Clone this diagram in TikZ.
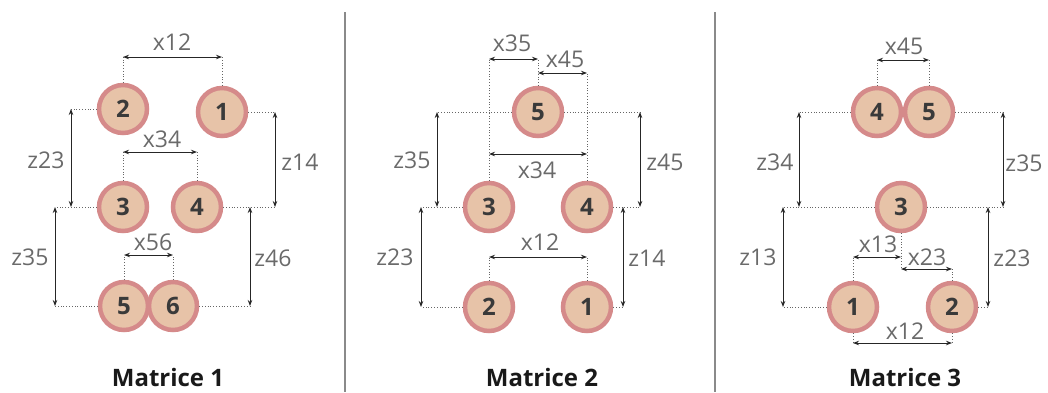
\documentclass[tikz,border=0pt]{standalone}
\usepackage{fontspec}
\setmainfont{Open Sans}
\usetikzlibrary{arrows.meta}
\definecolor{ballfill}{HTML}{E7C3A8}
\definecolor{ballline}{HTML}{D58A8A}
\definecolor{numcol}{HTML}{3A3A3A}
\definecolor{lblcol}{HTML}{6A6A6A}
\definecolor{sepcol}{HTML}{8A8A8A}
\tikzset{
  ball/.style={circle, draw=ballline, line width=4.5pt, fill=ballfill, minimum size=48pt, inner sep=0pt,
    font=\fontsize{24}{24}\selectfont\bfseries, text=numcol},
  dim/.style={{Stealth[length=6pt,width=4.5pt]}-{Stealth[length=6pt,width=4.5pt]}, line width=0.9pt, black!85},
  ext/.style={dotted, line width=0.8pt, black!60},
  lbl/.style={font=\fontsize{23}{23}\selectfont, text=lblcol, inner sep=0pt},
  ttl/.style={font=\fontsize{24}{24}\selectfont\bfseries, text=black!90, inner sep=0pt},
  sep/.style={line width=1.2pt, sepcol}
}
\begin{document}
\begin{tikzpicture}[x=1pt,y=-1pt]
\useasboundingbox (0,0) rectangle (1048,392);
% separators
\coordinate (s1t) at (345,12); \coordinate (s1b) at (345,392);
\coordinate (s2t) at (715,12); \coordinate (s2b) at (715,392);
\draw[sep] (s1t) -- (s1b);
\draw[sep] (s2t) -- (s2b);

% ================= Panel 1 =================
\node[ball] (a2) at (123,109) {2};
\node[ball] (a1) at (222,112) {1};
\node[ball] (a3) at (123,207) {3};
\node[ball] (a4) at (197,207) {4};
\node[ball] (a5) at (124,306) {5};
\node[ball] (a6) at (173,306) {6};
% x12
\coordinate (ax12l) at (123,57); \coordinate (ax12r) at (222,57);
\draw[ext] (a2.north) -- (ax12l); \draw[ext] (a1.north) -- (ax12r);
\draw[dim] (ax12l) -- (ax12r);
\node[lbl] (lx12a) at (172,42) {x12};
% x34
\coordinate (ax34l) at (123,152); \coordinate (ax34r) at (197,152);
\draw[ext] (a3.north) -- (ax34l); \draw[ext] (a4.north) -- (ax34r);
\draw[dim] (ax34l) -- (ax34r);
\node[lbl] (lx34a) at (162,139) {x34};
% x56
\coordinate (ax56l) at (124,255); \coordinate (ax56r) at (173,255);
\draw[ext] (a5.north) -- (ax56l); \draw[ext] (a6.north) -- (ax56r);
\draw[dim] (ax56l) -- (ax56r);
\node[lbl] (lx56a) at (153,242) {x56};
% z23
\coordinate (az23t) at (71,109); \coordinate (az23b) at (71,207);
\coordinate (a3w) at (55,207);
\draw[ext] (a2.west) -- (az23t); \draw[ext] (a3.west) -- (a3w);
\draw[dim] (az23t) -- (az23b);
\node[lbl] (lz23a) at (46,160) {z23};
% z35
\coordinate (az35b) at (55,306);
\draw[ext] (a5.west) -- (az35b);
\draw[dim] (a3w) -- (az35b);
\node[lbl] (lz35a) at (30,257) {z35};
% z14
\coordinate (az14t) at (275,112); \coordinate (az14b) at (275,207);
\draw[ext] (a1.east) -- (az14t); \draw[ext] (a4.east) -- (az14b);
\draw[dim] (az14t) -- (az14b);
\node[lbl] (lz14a) at (300,162) {z14};
% z46
\coordinate (az46t) at (250,207); \coordinate (az46b) at (250,306);
\draw[ext] (a6.east) -- (az46b);
\draw[dim] (az46t) -- (az46b);
\node[lbl] (lz46a) at (273,258) {z46};
\node[ttl] (t1) at (168,377) {Matrice 1};

% ================= Panel 2 =================
\node[ball] (b5) at (538,112) {5};
\node[ball] (b3) at (489,207) {3};
\node[ball] (b4) at (587,207) {4};
\node[ball] (b2) at (489,307) {2};
\node[ball] (b1) at (587,307) {1};
% x35
\coordinate (bx35l) at (489,59); \coordinate (bx35r) at (538,59);
\draw[ext] (b3.north) -- (bx35l); \draw[ext] (b5.north) -- (bx35r);
\draw[dim] (bx35l) -- (bx35r);
\node[lbl] (lx35b) at (512,43) {x35};
% x45
\coordinate (bx45l) at (538,73); \coordinate (bx45r) at (587,73);
\draw[ext] (b4.north) -- (bx45r);
\draw[dim] (bx45l) -- (bx45r);
\node[lbl] (lx45b) at (565,59) {x45};
% x34
\coordinate (bx34l) at (489,154); \coordinate (bx34r) at (587,154);
\draw[dim] (bx34l) -- (bx34r);
\node[lbl] (lx34b) at (537,170) {x34};
% z35
\coordinate (bz35t) at (437,112); \coordinate (bz35b) at (437,207);
\coordinate (b3w) at (421,207);
\draw[ext] (b5.west) -- (bz35t); \draw[ext] (b3.west) -- (b3w);
\draw[dim] (bz35t) -- (bz35b);
\node[lbl] (lz35b) at (412,160) {z35};
% z45
\coordinate (bz45t) at (640,112); \coordinate (bz45b) at (640,207);
\draw[ext] (b5.east) -- (bz45t); \draw[ext] (b4.east) -- (bz45b);
\draw[dim] (bz45t) -- (bz45b);
\node[lbl] (lz45b) at (665,162) {z45};
% z23
\coordinate (bz23b) at (421,307);
\draw[ext] (b2.west) -- (bz23b);
\draw[dim] (b3w) -- (bz23b);
\node[lbl] (lz23b) at (395,257) {z23};
% x12
\coordinate (bx12l) at (489,257); \coordinate (bx12r) at (587,257);
\draw[ext] (b2.north) -- (bx12l); \draw[ext] (b1.north) -- (bx12r);
\draw[dim] (bx12l) -- (bx12r);
\node[lbl] (lx12b) at (540,242) {x12};
% z14
\coordinate (bz14t) at (623,207); \coordinate (bz14b) at (623,307);
\draw[ext] (b1.east) -- (bz14b);
\draw[dim] (bz14t) -- (bz14b);
\node[lbl] (lz14b) at (647,258) {z14};
\node[ttl] (t2) at (542,377) {Matrice 2};

% ================= Panel 3 =================
\node[ball] (c4) at (877,112) {4};
\node[ball] (c5) at (929,112) {5};
\node[ball] (c3) at (901,207) {3};
\node[ball] (c1) at (853,307) {1};
\node[ball] (c2) at (952,307) {2};
% x45
\coordinate (cx45l) at (877,60); \coordinate (cx45r) at (929,60);
\draw[ext] (c4.north) -- (cx45l); \draw[ext] (c5.north) -- (cx45r);
\draw[dim] (cx45l) -- (cx45r);
\node[lbl] (lx45c) at (904,46) {x45};
% z34
\coordinate (cz34t) at (799,112); \coordinate (cz34b) at (799,207);
\coordinate (c3w) at (783,207);
\draw[ext] (c4.west) -- (cz34t); \draw[ext] (c3.west) -- (c3w);
\draw[dim] (cz34t) -- (cz34b);
\node[lbl] (lz34c) at (775,162) {z34};
% z35
\coordinate (cz35t) at (1003,112); \coordinate (cz35b) at (1003,207);
\draw[ext] (c5.east) -- (cz35t); \draw[ext] (c3.east) -- (cz35b);
\draw[dim] (cz35t) -- (cz35b);
\node[lbl] (lz35c) at (1024,163) {z35};
% z13
\coordinate (cz13b) at (783,307);
\draw[ext] (c1.west) -- (cz13b);
\draw[dim] (c3w) -- (cz13b);
\node[lbl] (lz13c) at (758,257) {z13};
% z23
\coordinate (cz23t) at (988,207); \coordinate (cz23b) at (988,307);
\draw[ext] (c2.east) -- (cz23b);
\draw[dim] (cz23t) -- (cz23b);
\node[lbl] (lz23c) at (1012,258) {z23};
% x13
\coordinate (cx13l) at (853,257); \coordinate (cx13r) at (901,257);
\coordinate (cx23l) at (901,269); \coordinate (cx23r) at (952,269);
\draw[ext] (c3.south) -- (cx23l); \draw[ext] (c1.north) -- (cx13l);
\draw[dim] (cx13l) -- (cx13r);
\node[lbl] (lx13c) at (878,244) {x13};
% x23
\draw[ext] (c2.north) -- (cx23r);
\draw[dim] (cx23l) -- (cx23r);
\node[lbl] (lx23c) at (927,257) {x23};
% x12
\coordinate (cx12l) at (853,343); \coordinate (cx12r) at (952,343);
\draw[ext] (c1.south) -- (cx12l); \draw[ext] (c2.south) -- (cx12r);
\draw[dim] (cx12l) -- (cx12r);
\node[lbl] (lx12c) at (905,331) {x12};
\node[ttl] (t3) at (905,377) {Matrice 3};
\end{tikzpicture}
\end{document}
